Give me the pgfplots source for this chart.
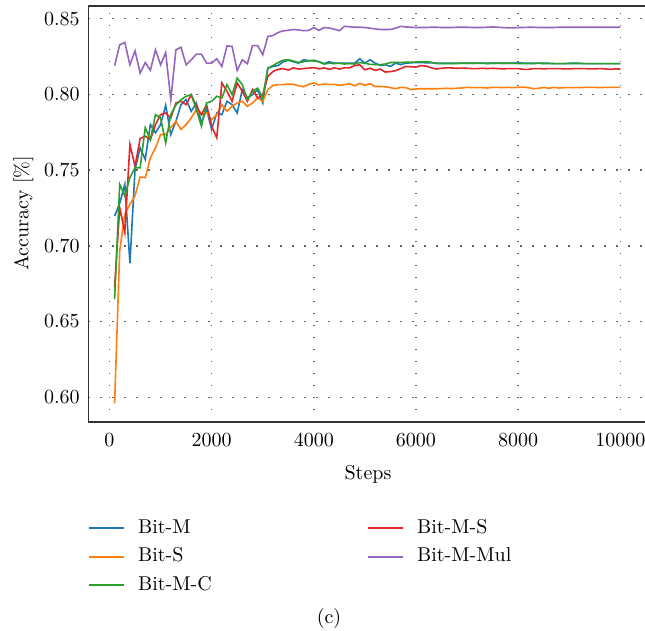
\documentclass[border=0pt]{standalone}
\usepackage{pgfplots}
\usepackage{pgfplotstable}
\pgfplotsset{compat=1.18}
\definecolor{bitblue}{HTML}{1F77B4}
\definecolor{bitorange}{HTML}{FF7F0E}
\definecolor{bitgreen}{HTML}{2CA02C}
\definecolor{bitred}{HTML}{E3262A}
\definecolor{bitpurple}{HTML}{9467BD}
\pgfplotstableread{
s M S MC MS Mul
100 0.7197 0.5960 0.6650 0.6726 0.8189
200 0.7280 0.6967 0.7406 0.7252 0.8327
300 0.7406 0.7208 0.7330 0.7088 0.8342
400 0.6884 0.7274 0.7450 0.7669 0.8195
500 0.7504 0.7330 0.7515 0.7526 0.8287
600 0.7647 0.7454 0.7515 0.7708 0.8140
700 0.7570 0.7450 0.7780 0.7724 0.8210
800 0.7800 0.7580 0.7700 0.7700 0.8158
900 0.7746 0.7647 0.7866 0.7800 0.8294
1000 0.7800 0.7735 0.7844 0.7866 0.8195
1100 0.7928 0.7735 0.7680 0.7877 0.8276
1200 0.7735 0.7780 0.7866 0.7844 0.7965
1300 0.7822 0.7822 0.7930 0.7943 0.8294
1400 0.7932 0.7768 0.7965 0.7954 0.8311
1500 0.7965 0.7800 0.7987 0.7932 0.8195
1600 0.7888 0.7844 0.7998 0.7998 0.8228
1700 0.7943 0.7900 0.7900 0.7921 0.8265
1800 0.7811 0.7866 0.7789 0.7866 0.8265
1900 0.7900 0.7877 0.7943 0.7932 0.8206
2000 0.7768 0.7833 0.7954 0.7789 0.8206
2100 0.7877 0.7866 0.7987 0.7713 0.8235
2200 0.7866 0.7932 0.7976 0.8075 0.8184
2300 0.7954 0.7888 0.8064 0.8020 0.8320
2400 0.7932 0.7921 0.7998 0.7954 0.8316
2500 0.7877 0.7943 0.8107 0.8075 0.8158
2600 0.8031 0.7954 0.8064 0.8020 0.8228
2700 0.7976 0.7921 0.7965 0.7954 0.8202
2800 0.7998 0.7943 0.8020 0.8031 0.8322
2900 0.8031 0.7976 0.8041 0.7976 0.8322
3000 0.7943 0.7954 0.7976 0.7998 0.8261
3100 0.8173 0.8031 0.8173 0.8118 0.8382
3200 0.8184 0.8059 0.8190 0.8151 0.8388
3300 0.8190 0.8064 0.8210 0.8165 0.8408
3400 0.8215 0.8064 0.8225 0.8170 0.8419
3500 0.8225 0.8068 0.8228 0.8160 0.8423
3600 0.8215 0.8066 0.8220 0.8175 0.8428
3700 0.8206 0.8057 0.8210 0.8167 0.8425
3800 0.8228 0.8050 0.8215 0.8170 0.8420
3900 0.8222 0.8066 0.8222 0.8173 0.8422
4000 0.8225 0.8075 0.8220 0.8176 0.8441
4100 0.8215 0.8062 0.8215 0.8168 0.8422
4200 0.8203 0.8068 0.8200 0.8175 0.8441
4300 0.8215 0.8066 0.8205 0.8165 0.8438
4400 0.8206 0.8066 0.8203 0.8175 0.8430
4500 0.8206 0.8060 0.8205 0.8167 0.8420
4600 0.8206 0.8064 0.8200 0.8175 0.8449
4700 0.8206 0.8070 0.8203 0.8175 0.8446
4800 0.8206 0.8056 0.8200 0.8190 0.8443
4900 0.8235 0.8072 0.8210 0.8195 0.8443
5000 0.8206 0.8060 0.8205 0.8162 0.8441
5100 0.8228 0.8070 0.8198 0.8173 0.8437
5200 0.8206 0.8052 0.8196 0.8158 0.8432
5300 0.8191 0.8052 0.8196 0.8167 0.8428
5400 0.8195 0.8050 0.8200 0.8147 0.8428
5500 0.8184 0.8044 0.8210 0.8150 0.8428
5600 0.8206 0.8037 0.8210 0.8156 0.8437
5700 0.8196 0.8046 0.8210 0.8170 0.8449
5800 0.8206 0.8044 0.8212 0.8184 0.8445
5900 0.8208 0.8031 0.8212 0.8182 0.8443
6000 0.8210 0.8035 0.8213 0.8180 0.8441
6100 0.8210 0.8037 0.8215 0.8190 0.8441
6200 0.8208 0.8037 0.8215 0.8186 0.8441
6300 0.8208 0.8037 0.8212 0.8175 0.8443
6400 0.8206 0.8037 0.8203 0.8167 0.8443
6500 0.8205 0.8038 0.8203 0.8172 0.8441
6600 0.8205 0.8040 0.8203 0.8175 0.8441
6700 0.8205 0.8038 0.8203 0.8174 0.8441
6800 0.8206 0.8040 0.8203 0.8172 0.8443
6900 0.8206 0.8042 0.8205 0.8173 0.8443
7000 0.8205 0.8046 0.8205 0.8172 0.8443
7100 0.8205 0.8044 0.8205 0.8170 0.8441
7200 0.8206 0.8044 0.8205 0.8170 0.8441
7300 0.8206 0.8044 0.8205 0.8172 0.8441
7400 0.8205 0.8042 0.8203 0.8170 0.8443
7500 0.8205 0.8046 0.8205 0.8172 0.8445
7600 0.8206 0.8046 0.8205 0.8170 0.8443
7700 0.8205 0.8044 0.8205 0.8168 0.8441
7800 0.8205 0.8046 0.8205 0.8170 0.8439
7900 0.8206 0.8044 0.8205 0.8170 0.8439
8000 0.8208 0.8046 0.8203 0.8170 0.8441
8100 0.8206 0.8048 0.8203 0.8165 0.8441
8200 0.8205 0.8044 0.8203 0.8165 0.8443
8300 0.8205 0.8037 0.8203 0.8170 0.8443
8400 0.8206 0.8040 0.8205 0.8170 0.8441
8500 0.8205 0.8046 0.8203 0.8168 0.8441
8600 0.8205 0.8040 0.8203 0.8170 0.8441
8700 0.8203 0.8046 0.8203 0.8170 0.8441
8800 0.8203 0.8042 0.8203 0.8170 0.8443
8900 0.8203 0.8044 0.8203 0.8168 0.8443
9000 0.8205 0.8044 0.8203 0.8168 0.8443
9100 0.8205 0.8044 0.8203 0.8170 0.8443
9200 0.8205 0.8044 0.8203 0.8170 0.8443
9300 0.8203 0.8046 0.8203 0.8170 0.8443
9400 0.8203 0.8046 0.8203 0.8168 0.8443
9500 0.8203 0.8046 0.8203 0.8168 0.8443
9600 0.8203 0.8044 0.8203 0.8170 0.8443
9700 0.8203 0.8046 0.8203 0.8168 0.8443
9800 0.8203 0.8046 0.8203 0.8165 0.8443
9900 0.8203 0.8046 0.8203 0.8168 0.8443
10000 0.8203 0.8046 0.8203 0.8167 0.8443
}\datatable
\begin{document}
\begin{tikzpicture}
\begin{axis}[
  at={(44.25pt,104.5pt)}, anchor=south west,
  scale only axis,
  width=280.75pt, height=208pt,
  xmin=-411, xmax=10581,
  ymin=0.58369, ymax=0.85832,
  xtick={0,2000,4000,6000,8000,10000},
  ytick={0.60,0.65,0.70,0.75,0.80,0.85},
  scaled x ticks=false,
  scaled y ticks=false,
  xticklabel style={/pgf/number format/1000 sep={}, anchor=base, inner sep=0pt, yshift=-12.35pt},
  yticklabel style={/pgf/number format/.cd, fixed, fixed zerofill, precision=2, /tikz/.cd, anchor=east, inner sep=0pt, xshift=-4.25pt},
  major tick length=0pt,
  grid=major,
  major grid style={black!60, line width=0.7pt, dash pattern=on 0.7pt off 5.3pt},
  axis line style={black!80, line width=0.65pt},
  xlabel={Steps},
  ylabel={Accuracy [\%]},
  xlabel style={at={(axis description cs:0.4978,-0.1377)}, anchor=base, inner sep=0pt},
  ylabel style={at={(axis description cs:-0.1072,0.5017)}, anchor=base, inner sep=0pt},
]
\addplot[bitblue, line width=0.8pt] table[x=s, y=M] {\datatable};
\addplot[bitorange, line width=0.8pt] table[x=s, y=S] {\datatable};
\addplot[bitred, line width=0.8pt] table[x=s, y=MS] {\datatable};
\addplot[bitpurple, line width=0.8pt] table[x=s, y=Mul] {\datatable};
\addplot[bitgreen, line width=0.8pt] table[x=s, y=MC] {\datatable};
\end{axis}
% legend
\draw[bitblue, line width=1pt] (44.64pt,51.4pt) -- (61.99pt,51.4pt);
\node[anchor=base west, inner sep=0pt] at (68.89pt,48.9pt) {Bit-M};
\draw[bitorange, line width=1pt] (44.64pt,37.1pt) -- (61.99pt,37.1pt);
\node[anchor=base west, inner sep=0pt] at (68.89pt,34.6pt) {Bit-S};
\draw[bitgreen, line width=1pt] (44.64pt,23.1pt) -- (61.99pt,23.1pt);
\node[anchor=base west, inner sep=0pt] at (68.89pt,20.3pt) {Bit-M-C};
\draw[bitred, line width=1pt] (184.14pt,51.4pt) -- (201.49pt,51.4pt);
\node[anchor=base west, inner sep=0pt] at (208.39pt,48.9pt) {Bit-M-S};
\draw[bitpurple, line width=1pt] (184.14pt,37.1pt) -- (201.49pt,37.1pt);
\node[anchor=base west, inner sep=0pt] at (208.39pt,34.6pt) {Bit-M-Mul};
\node[inner sep=0pt] at (164.5pt,6pt) {(c)};
\pgfresetboundingbox
\useasboundingbox (0,0) rectangle (322.5pt,315.5pt);
\end{tikzpicture}
\end{document}
